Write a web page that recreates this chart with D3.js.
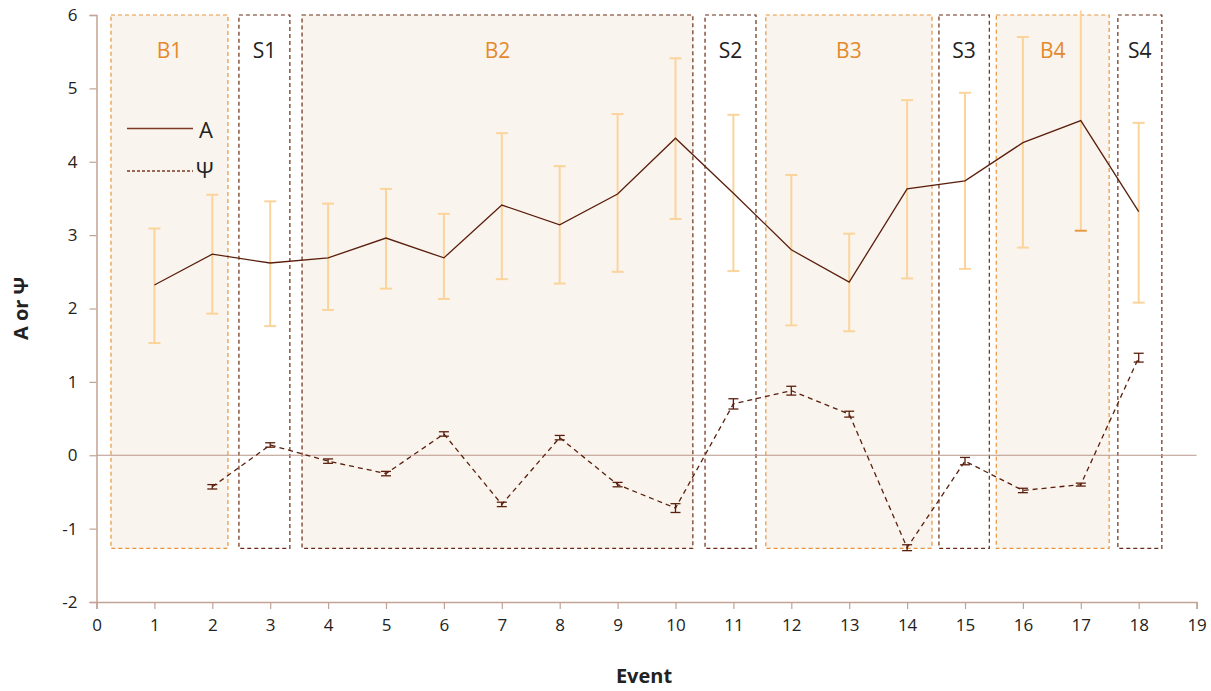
<!DOCTYPE html>
<html>
<head>
<meta charset="utf-8">
<script src="https://cdn.jsdelivr.net/npm/d3@7/dist/d3.min.js"></script>
<style>
  html, body { margin: 0; padding: 0; background: #fff; }
  svg { display: block; font-family: "Open Sans", "Noto Sans", sans-serif; }
</style>
</head>
<body>
<script>
// events 1..18
const events = [1, 2, 3, 4, 5, 6, 7, 8, 9, 10, 11, 12, 13, 14, 15, 16, 17, 18];
const aMean = [2.32, 2.74, 2.62, 2.69, 2.96, 2.69, 3.41, 3.14, 3.56, 4.32, 3.57, 2.80, 2.36, 3.63, 3.74, 4.26, 4.56, 3.32];
const aLow  = [1.53, 1.93, 1.76, 1.98, 2.27, 2.13, 2.40, 2.34, 2.50, 3.22, 2.51, 1.77, 1.69, 2.41, 2.54, 2.83, 3.06, 2.08];
const aHigh = [3.09, 3.55, 3.46, 3.43, 3.63, 3.29, 4.39, 3.94, 4.65, 5.41, 4.64, 3.82, 3.02, 4.84, 4.94, 5.70, 6.10, 4.53];

// psi starts at event 2
const psiEvents = [2, 3, 4, 5, 6, 7, 8, 9, 10, 11, 12, 13, 14, 15, 16, 17, 18];
const psiMean = [-0.43, 0.14, -0.08, -0.25, 0.29, -0.67, 0.24, -0.40, -0.72, 0.70, 0.88, 0.56, -1.26, -0.08, -0.48, -0.40, 1.33];
const psiErr  = [0.03, 0.03, 0.03, 0.03, 0.03, 0.03, 0.03, 0.03, 0.06, 0.07, 0.06, 0.04, 0.04, 0.05, 0.03, 0.02, 0.06];

// shaded phases
const phaseNames = ["B1", "S1", "B2", "S2", "B3", "S3", "B4", "S4"];
const phaseStart = [0.25, 2.46, 3.55, 10.51, 11.56, 14.55, 15.54, 17.64];
const phaseEnd   = [2.27, 3.34, 10.3, 11.39, 14.43, 15.42, 17.49, 18.40];
const phaseBottom = -1.27;

const xTicks = d3.range(0, 20);
const yTicks = [-2, -1, 0, 1, 2, 3, 4, 5, 6];

const W = 1211, H = 691;
const x = d3.scaleLinear().domain([0, 19]).range([96.5, 1196.6]);
const y = d3.scaleLinear().domain([-2, 6]).range([602, 15]);

const axisCol = "#c2a394";
const lineCol = "#5a1f0c";
const errCol = "#fbd49c";
const orange = "#e38a2d";

const svg = d3.select("body").append("svg").attr("width", W).attr("height", H);

// phase boxes
const boxes = svg.append("g");
phaseNames.forEach((n, i) => {
  const isB = n[0] === "B";
  const darkBorder = n === "B2" || !isB;
  boxes.append("rect")
    .attr("x", x(phaseStart[i]))
    .attr("y", y(6))
    .attr("width", x(phaseEnd[i]) - x(phaseStart[i]))
    .attr("height", y(phaseBottom) - y(6))
    .attr("fill", isB ? "#faf4ee" : "#fff")
    .attr("stroke", darkBorder ? "#6a2c16" : "#e8953c")
    .attr("stroke-width", 1.2)
    .attr("stroke-dasharray", "4,3");
  boxes.append("text")
    .attr("x", (x(phaseStart[i]) + x(phaseEnd[i])) / 2)
    .attr("y", 58)
    .attr("text-anchor", "middle")
    .attr("font-size", 21)
    .attr("fill", isB ? orange : "#222")
    .text(n);
});

// zero line
svg.append("line")
  .attr("x1", x(0)).attr("x2", x(19))
  .attr("y1", y(0)).attr("y2", y(0))
  .attr("stroke", "#b8968a").attr("stroke-width", 1.2);

// axes
const fmt = d => String(d);
const yAxis = svg.append("g")
  .attr("transform", `translate(${x(0)},0)`)
  .call(d3.axisLeft(y).tickValues(yTicks).tickSize(7).tickPadding(12).tickFormat(fmt));
const xAxis = svg.append("g")
  .attr("transform", `translate(0,${y(-2)})`)
  .call(d3.axisBottom(x).tickValues(xTicks).tickSize(7).tickPadding(10).tickFormat(fmt));
[yAxis, xAxis].forEach(a => {
  a.select(".domain").attr("stroke", axisCol).attr("stroke-width", 1.5);
  a.selectAll(".tick line").attr("stroke", axisCol).attr("stroke-width", 1.2);
  a.selectAll(".tick text").attr("fill", "#222").attr("font-size", 17)
    .attr("font-family", "'Open Sans', 'Noto Sans', sans-serif");
});

// A error bars
const aErr = svg.append("g");
events.forEach((e, i) => {
  const top = Math.min(aHigh[i], 6.06);
  aErr.append("line")
    .attr("x1", x(e)).attr("x2", x(e))
    .attr("y1", y(aLow[i])).attr("y2", y(top))
    .attr("stroke", errCol).attr("stroke-width", 2);
  if (aHigh[i] <= 6) {
    aErr.append("line")
      .attr("x1", x(e) - 6).attr("x2", x(e) + 6)
      .attr("y1", y(aHigh[i])).attr("y2", y(aHigh[i]))
      .attr("stroke", errCol).attr("stroke-width", 2);
  }
  aErr.append("line")
    .attr("x1", x(e) - 6).attr("x2", x(e) + 6)
    .attr("y1", y(aLow[i])).attr("y2", y(aLow[i]))
    .attr("stroke", e === 17 ? "#e79a45" : errCol).attr("stroke-width", 2);
});

// A line
const line = d3.line().x(d => x(d[0])).y(d => y(d[1]));
svg.append("path")
  .datum(events.map((e, i) => [e, aMean[i]]))
  .attr("d", line)
  .attr("fill", "none")
  .attr("stroke", lineCol)
  .attr("stroke-width", 1.3);

// psi line
svg.append("path")
  .datum(psiEvents.map((e, i) => [e, psiMean[i]]))
  .attr("d", line)
  .attr("fill", "none")
  .attr("stroke", lineCol)
  .attr("stroke-width", 1.3)
  .attr("stroke-dasharray", "5,4");

// psi error bars
const pErr = svg.append("g").attr("stroke", lineCol).attr("stroke-width", 1.3);
psiEvents.forEach((e, i) => {
  const lo = psiMean[i] - psiErr[i], hi = psiMean[i] + psiErr[i];
  pErr.append("line").attr("x1", x(e)).attr("x2", x(e)).attr("y1", y(lo)).attr("y2", y(hi));
  pErr.append("line").attr("x1", x(e) - 5).attr("x2", x(e) + 5).attr("y1", y(lo)).attr("y2", y(lo));
  pErr.append("line").attr("x1", x(e) - 5).attr("x2", x(e) + 5).attr("y1", y(hi)).attr("y2", y(hi));
});

// legend
const leg = svg.append("g");
leg.append("line").attr("x1", 127).attr("x2", 193).attr("y1", 128.5).attr("y2", 128.5)
  .attr("stroke", "#7a3a26").attr("stroke-width", 1.3);
leg.append("text").attr("x", 199).attr("y", 138).attr("font-size", 22).attr("fill", "#222").text("A");
leg.append("line").attr("x1", 127).attr("x2", 193).attr("y1", 171).attr("y2", 171)
  .attr("stroke", "#7a3a26").attr("stroke-width", 1.3).attr("stroke-dasharray", "3,2");
leg.append("text").attr("x", 196).attr("y", 178).attr("font-size", 22).attr("fill", "#222").text("Ψ");

// axis titles
svg.append("text")
  .attr("transform", `translate(28,${y(2)}) rotate(-90)`)
  .attr("text-anchor", "middle")
  .attr("font-size", 20).attr("font-weight", "bold").attr("fill", "#222")
  .text("A or Ψ");
svg.append("text")
  .attr("x", 644).attr("y", 683)
  .attr("text-anchor", "middle")
  .attr("font-size", 20).attr("font-weight", "bold").attr("fill", "#222")
  .text("Event");
</script>
</body>
</html>
